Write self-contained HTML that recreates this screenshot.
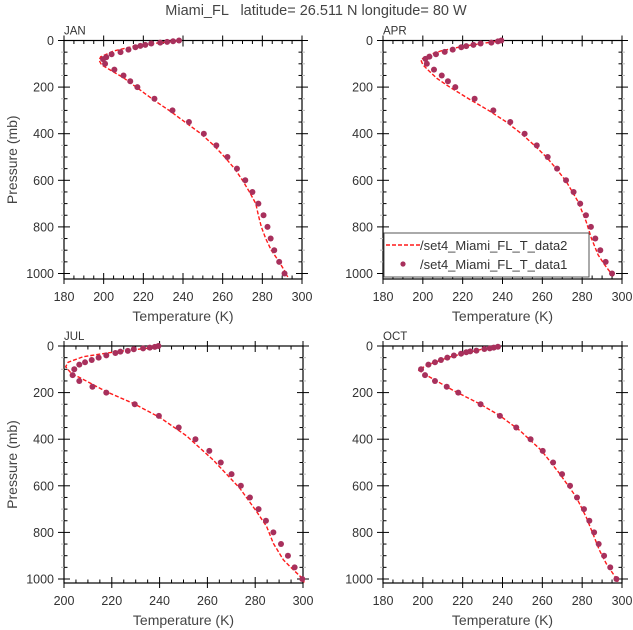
<!DOCTYPE html>
<html><head><meta charset="utf-8"><style>
body{margin:0;background:#fff;}
svg{display:block;font-family:"Liberation Sans",sans-serif;}
</style></head><body>
<svg id="chart" width="633" height="630" viewBox="0 0 633 630">
<text x="316" y="15" text-anchor="middle" font-size="14.5" fill="#444" xml:space="preserve">Miami_FL   latitude= 26.511 N longitude= 80 W</text>
</svg>
<script>
const panelNames = ["JAN","APR","JUL","OCT"];
const xRanges = [[180,300],[180,300],[200,300],[180,300]];
const lowerP = [125,150,175,200,250,300,350,400,450,500,550,600,650,700,750,800,850,900,950,1000];
const dotP = [
 [0,3,6,9,13,19,23,29,39,50,59,72,80,100].concat(lowerP),
 [0,4,9,13,19,24,29,39,49,59,69,79,100].concat(lowerP),
 [0,4,7,10,14,21,24,30,40,50,60,70,80,100].concat(lowerP),
 [3,7,10,13,20,23,27,33,41,50,60,70,80,100].concat(lowerP)
];
const dotT = [
 [238,235,232,228.5,224,221,218.5,216,212.5,208.5,204,201.3,199.7,200.7, 205.4,210,213.4,217,225.6,234.7,243,250.5,256.8,262.4,267.2,271.4,275,278,280.6,282.6,284.2,286,288.5,291.2],
 [239.4,237.7,234.4,229,225.4,221.8,219.3,215,211,206.6,203.3,201.3,202, 205.6,209.5,212.6,216.3,226,235.4,243.9,251.1,257.2,262.7,267.4,271.9,275.7,279,281.9,284.4,286.6,289.1,291.8,295],
 [239.5,238,235.9,233.1,229.2,226.7,223.6,221.5,217.7,214.5,211.6,208.8,206.4,204.3, 203.6,206.4,211.9,217.7,229.6,239.7,248,255,260.8,265.6,270.1,274,277.8,281.4,284.5,287.6,290.8,293.7,296.5,299.7],
 [237.7,235.6,233.6,230.9,226.9,223.8,221.8,219.2,215.6,212.3,209.1,206.1,202.8,199.1, 201.1,206.1,212,217.8,229,238.7,246.9,254.1,260.2,265.4,269.9,273.9,277.4,280.9,283.6,286,288.3,291,294.1,297.2]
];
const lineP = [
 [2,10,25,45,70,85,105,125,160,210,260,300,350,400,450,500,550,600,650,700,750,800,850,900,950,1000,1015],
 [0,10,25,45,65,83,104,130,162,200,250,300,350,400,450,500,550,605,691,777,848,920,963,1000,1012],
 [0,10,24,46,70,89,117,143,196,246,306,386,489,611,711,775,847,918,961,1000,1015],
 [0,19,47,83,104,133,190,248,298,362,448,548,648,734,806,877,934,999,1012]
];
const lineT = [
 [237.5,228,215,205,198.5,197.7,199,203,210,218,226,233,241,249,255.5,261,266,270,273.5,276.7,278,279.5,281.7,284.5,288.5,292,292.8],
 [239.4,232,220,209,202,199,200,203,207,213.5,223,233,242,249.5,256,262,267,272,277.9,282,284.6,288,291.3,294.6,295.6],
 [240,234.5,222,208,201.7,200.7,203,208,217.7,228.9,240,251.3,262.4,273.6,280.6,284.8,287.6,291.8,296,300,300.5],
 [238.2,226.9,213.5,201.8,197.9,203.4,215.1,228.5,238.5,248.6,259.5,268.7,277,282,285.4,288.7,292.1,297.2,298]
];
const yTicks = [0,200,400,600,800,1000];
const boxes = [
 {L:64,R:302,y0:40.5,y1:273.5,B:279},
 {L:383,R:622,y0:40.5,y1:273.5,B:279},
 {L:64,R:303,y0:346,y1:579,B:583},
 {L:383,R:622,y0:346,y1:579,B:583}
];
const svg = document.getElementById('chart');
const NS = 'http://www.w3.org/2000/svg';
function mk(tag, attrs, parent){const e=document.createElementNS(NS,tag);for(const k in attrs)e.setAttribute(k,attrs[k]);(parent||svg).appendChild(e);return e;}
panelNames.forEach((name,i)=>{
 const b=boxes[i], xr=xRanges[i];
 const g=mk('g',{});
 
 
 const xs=t=>b.L+(t-xr[0])/(xr[1]-xr[0])*(b.R-b.L);
 const ys=p=>b.y0+p/1000*(b.y1-b.y0);
 const frame=mk('rect',{x:b.L,y:b.y0,width:b.R-b.L,height:b.B-b.y0,fill:'none',stroke:'#000','stroke-width':1.2},g);
 
 
 for(let t=xr[0];t<=xr[1];t+=5){
  const x=xs(t), major=(t%20===0);
  const len=major?6:3.5;
  mk('line',{x1:x,y1:b.B,x2:x,y2:b.B-len,stroke:'#000','stroke-width':1},g);
  mk('line',{x1:x,y1:b.y0,x2:x,y2:b.y0+len,stroke:'#000','stroke-width':1},g);
  if(major){
   mk('line',{x1:x,y1:b.B,x2:x,y2:b.B+5,stroke:'#000','stroke-width':1},g);
   mk('line',{x1:x,y1:b.y0,x2:x,y2:b.y0-5,stroke:'#000','stroke-width':1},g);
   const tl=mk('text',{x:x,y:b.B+22,'text-anchor':'middle','font-size':12.5,fill:'#333'},g);
   tl.textContent=t;
   
   
  }
 }
 for(let p=0;p<=1000;p+=50){
  const y=ys(p), major=(p%200===0);
  const len=major?6:3.5;
  mk('line',{x1:b.L,y1:y,x2:b.L+len,y2:y,stroke:'#000','stroke-width':1},g);
  mk('line',{x1:b.R,y1:y,x2:b.R-len,y2:y,stroke:'#000','stroke-width':1},g);
  if(!major){
   mk('line',{x1:b.L,y1:y,x2:b.L-3,y2:y,stroke:'#bbb','stroke-width':1},g);
   mk('line',{x1:b.R,y1:y,x2:b.R+3,y2:y,stroke:'#bbb','stroke-width':1},g);
  }
 }
 yTicks.forEach(p=>{
  const y=ys(p);
  mk('line',{x1:b.L,y1:y,x2:b.L-6,y2:y,stroke:'#000','stroke-width':1},g);
  mk('line',{x1:b.R,y1:y,x2:b.R+6,y2:y,stroke:'#000','stroke-width':1},g);
  const tl=mk('text',{x:b.L-10,y:y+4.5,'text-anchor':'end','font-size':12.5,fill:'#333'},g);
  tl.textContent=p;
  
  
 });
 const pl=mk('text',{x:b.L,y:b.y0-6,'font-size':11.5,fill:'#333'},g);
 pl.textContent=name;
 
 
 const xt=mk('text',{x:(b.L+b.R)/2,y:b.B+42,'text-anchor':'middle','font-size':14,fill:'#444'},g);
 xt.textContent='Temperature (K)';
 
 
 if(i%2===0){
  const cy=(b.y0+b.B)/2;
  const yt=mk('text',{x:17,y:cy,'text-anchor':'middle','font-size':14,fill:'#444',transform:'rotate(-90 17 '+cy+')'},g);
  yt.textContent='Pressure (mb)';
  
  
 }
 const d=lineP[i].map((p,k)=>(k?'L':'M')+xs(lineT[i][k]).toFixed(2)+' '+ys(p).toFixed(2)).join(' ');
 const ln=mk('path',{d:d,fill:'none',stroke:'#ff1a1a','stroke-width':1.4,'stroke-dasharray':'4 2','stroke-linejoin':'round'},g);
 
 
 dotP[i].forEach((p,k)=>{
  const c=mk('circle',{cx:xs(dotT[i][k]),cy:ys(p),r:3,fill:'#a8305c'},g);
  
  
 });
});
const lg=mk('g',{});


mk('rect',{x:384,y:233,width:205,height:44,fill:'#fff',stroke:'#555','stroke-width':1},lg);
mk('line',{x1:386,y1:245,x2:420,y2:245,stroke:'#ff1a1a','stroke-width':1.4,'stroke-dasharray':'4 2'},lg);
const l1=mk('text',{x:420,y:250,'font-size':13,fill:'#333'},lg);
l1.textContent='/set4_Miami_FL_T_data2';


mk('circle',{cx:403,cy:264,r:2.6,fill:'#a8305c'},lg);
const l2=mk('text',{x:420,y:269,'font-size':13,fill:'#333'},lg);
l2.textContent='/set4_Miami_FL_T_data1';


</script>
</body></html>
